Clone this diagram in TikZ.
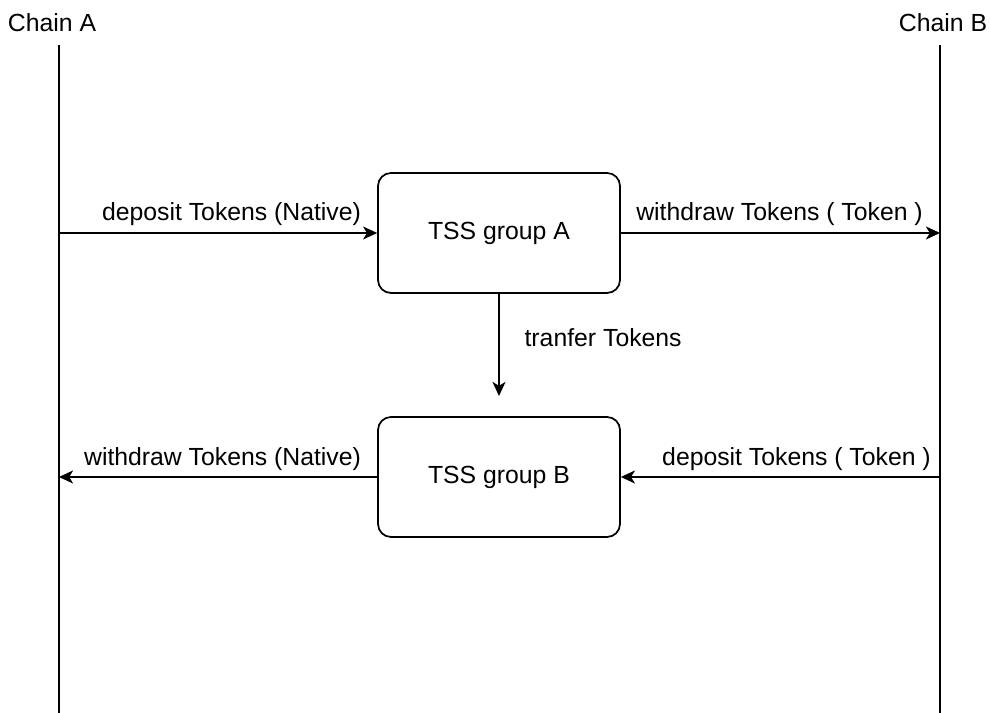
\documentclass[tikz,border=0pt]{standalone}
\usepackage{fontspec}
\setmainfont{Liberation Sans}
\usepackage{tikz}
\usetikzlibrary{arrows.meta, positioning, calc}

\begin{document}
\begin{tikzpicture}[font=\fontsize{7.05}{8.5}\selectfont, line width=0.5pt,
  tssbox/.style={draw, rounded corners=3.7pt, minimum width=2.42cm, minimum height=1.2cm},
  flow/.style={-{Stealth[length=4pt, width=3.7pt, inset=1.1pt]}}]
  \useasboundingbox (0,0) rectangle (9.9,7.13);

  % Chains
  \node (chainA) at (0.52, 6.90) {Chain A};
  \node (chainB) at (9.43, 6.90) {Chain B};
  \coordinate (aTop) at (0.59, 6.68); \coordinate (aBot) at (0.59, 0);
  \coordinate (bTop) at (9.40, 6.68); \coordinate (bBot) at (9.40, 0);
  \draw (aTop) -- (aBot);
  \draw (bTop) -- (bBot);

  % TSS groups
  \node[tssbox] (tssA) at (4.99, 4.80) {TSS group A};
  \node[tssbox] (tssB) at (4.99, 2.36) {TSS group B};

  % Chain A -> group A -> Chain B
  \draw[flow] (tssA.west -| aTop) -- (tssA.west);
  \node (depNative) at (2.315, 4.99) {deposit Tokens (Native)};
  \draw[flow] (tssA.east) -- (tssA.east -| bTop);
  \node (wdToken) at (7.795, 4.99) {withdraw Tokens ( Token )};

  % group A -> group B
  \coordinate (tfEnd) at (4.99, 3.17);
  \draw[flow] (tssA.south) -- (tfEnd);
  \node[anchor=west] (tfLabel) at (5.12, 3.75) {tranfer Tokens};

  % Chain B -> group B -> Chain A
  \draw[flow] (tssB.west) -- (tssB.west -| aTop);
  \node (wdNative) at (2.225, 2.54) {withdraw Tokens (Native)};
  \draw[flow] (tssB.east -| bTop) -- (tssB.east);
  \node (depToken) at (7.965, 2.54) {deposit Tokens ( Token )};
\end{tikzpicture}
\end{document}
